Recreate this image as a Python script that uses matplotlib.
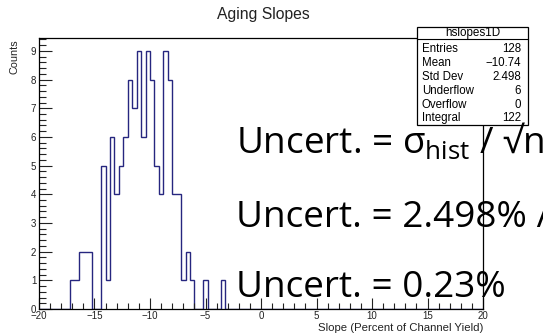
import numpy as np
import matplotlib
matplotlib.use("Agg")
import matplotlib.pyplot as plt
from matplotlib.patches import Rectangle
from matplotlib.lines import Line2D
from matplotlib.ticker import MultipleLocator

# histogram hslopes1D: 100 bins of 0.4 between -20 and 20
X_LO, X_HI, N_BINS = -20.0, 20.0, 100
counts = [0] * N_BINS
filled = {
    7: 1, 8: 1, 9: 2, 10: 2, 11: 2,
    14: 5, 15: 1, 16: 6, 17: 4, 18: 5, 19: 6, 20: 8, 21: 7,
    22: 9, 23: 6, 24: 9, 25: 8, 26: 5, 27: 4, 28: 9, 29: 8,
    30: 4, 31: 4, 32: 1, 33: 2, 34: 1, 37: 1, 41: 1,
}
for i, c in filled.items():
    counts[i] = c

stat_names = ["Entries", "Mean", "Std Dev", "Underflow", "Overflow", "Integral"]
stat_values = ["128", "\u221210.74", "2.498", "6", "0", "122"]

notes = [
    r"Uncert. = σ$_\mathregular{hist}$ / √n",
    "Uncert. = 2.498% / √128",
    "Uncert. = 0.23%",
]

W, H = 543, 334
plt.rcParams["font.family"] = ["Liberation Sans", "DejaVu Sans"]
plt.rcParams["mathtext.fontset"] = "custom"
plt.rcParams["mathtext.rm"] = "Open Sans"

fig = plt.figure(figsize=(W / 100, H / 100), dpi=100)
ax = fig.add_axes([39 / W, 1 - 309 / H, 444 / W, 271 / H])

edges = np.linspace(X_LO, X_HI, N_BINS + 1)
ax.stairs(counts, edges, color="#26267f", lw=1.0)

ax.set_xlim(X_LO, X_HI)
ax.set_ylim(0, max(counts) * 1.05)
ax.xaxis.set_major_locator(MultipleLocator(5))
ax.xaxis.set_minor_locator(MultipleLocator(1))
ax.yaxis.set_major_locator(MultipleLocator(1))
ax.yaxis.set_minor_locator(MultipleLocator(0.2))
ax.tick_params(which="both", direction="in", top=False, right=False,
               labelsize=7, colors="#222222", width=0.8)
ax.tick_params(axis="y", which="major", length=9, pad=2)
ax.tick_params(axis="y", which="minor", length=5)
ax.tick_params(axis="x", which="major", length=8, pad=1.5)
ax.tick_params(axis="x", which="minor", length=4)
for s in ax.spines.values():
    s.set_linewidth(0.9)

fig.text(263 / W, 1 - 14 / H, "Aging Slopes", ha="center", va="center",
         fontsize=11.3, color="#222222")
fig.text(14 / W, 1 - 39 / H, "Counts", rotation=90, ha="center", va="top",
         fontsize=7.8, color="#222222")
fig.text(483 / W, 1 - 328 / H, "Slope (Percent of Channel Yield)",
         ha="right", va="center", fontsize=8.2, color="#222222")

# stats box
bx0, bx1, by0, by1, hdr = 417, 528, 27, 125, 39
fig.patches.append(Rectangle((bx0 / W, 1 - by1 / H), (bx1 - bx0) / W,
                             (by1 - by0) / H, transform=fig.transFigure,
                             facecolor="white", edgecolor="black", lw=0.9,
                             zorder=5))
fig.lines.append(Line2D([bx0 / W, bx1 / W], [1 - hdr / H, 1 - hdr / H],
                        transform=fig.transFigure, color="black", lw=0.8,
                        zorder=6))
fig.text((bx0 + bx1) / 2 / W, 1 - 33 / H, "hslopes1D", ha="center",
         va="center", fontsize=8.4, zorder=7)
for k, (name, val) in enumerate(zip(stat_names, stat_values)):
    yy = 1 - (49.3 + 13.8 * k) / H
    fig.text(422 / W, yy, name, ha="left", va="center", fontsize=8.3, zorder=7)
    fig.text(521 / W, yy, val, ha="right", va="center", fontsize=8.3, zorder=7)

for txt, base in zip(notes, [154, 227, 297]):
    fig.text(236 / W, 1 - base / H, txt, ha="left", va="baseline",
             fontsize=26.6, family="Open Sans", color="black", zorder=10)

fig.savefig("out.png", dpi=100)
